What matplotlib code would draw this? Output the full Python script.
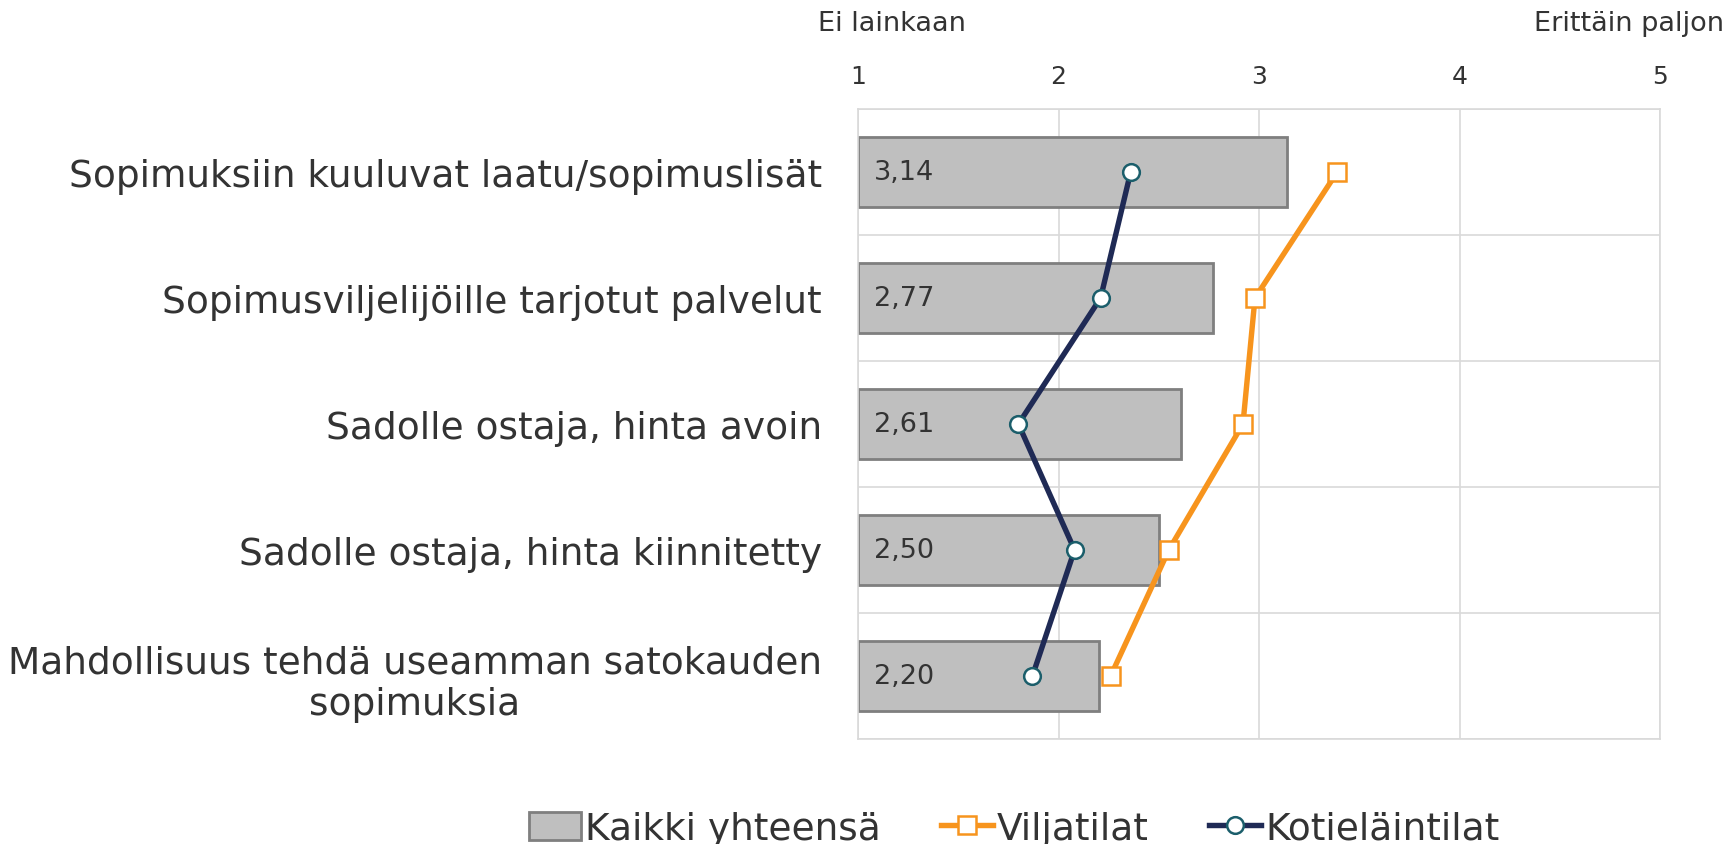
import matplotlib.pyplot as plt
from matplotlib.patches import Patch
from matplotlib.lines import Line2D
import numpy as np

# categories, top to bottom
categories = [
    'Sopimuksiin kuuluvat laatu/sopimuslisät',
    'Sopimusviljelijöille tarjotut palvelut',
    'Sadolle ostaja, hinta avoin',
    'Sadolle ostaja, hinta kiinnitetty',
    'Mahdollisuus tehdä useamman satokauden\nsopimuksia',
]
kaikki = [3.14, 2.77, 2.61, 2.50, 2.20]
viljatilat = [3.39, 2.98, 2.92, 2.55, 2.26]
kotielaintilat = [2.36, 2.21, 1.80, 2.08, 1.87]
xticks = [1, 2, 3, 4, 5]

text_col = '#333333'
grid_col = '#d9d9d9'
bar_col = '#bfbfbf'
bar_edge = '#7f7f7f'
orange = '#f7941d'
navy = '#1f2a55'
teal = '#1b5e6b'

plt.rcParams['font.family'] = 'DejaVu Sans'

fig = plt.figure(figsize=(17.27, 8.45), dpi=100)
ax = fig.add_axes([858 / 1727, 1 - 740 / 845, (1660 - 858) / 1727, (740 - 110) / 845])

y = np.arange(len(categories))

# bars start at 1 (scale minimum)
ax.barh(y, np.array(kaikki) - 1, left=1, height=0.56, color=bar_col,
        edgecolor=bar_edge, linewidth=2, zorder=2)
for yi, v in zip(y, kaikki):
    ax.text(1.08, yi, f'{v:.2f}'.replace('.', ','), va='center', ha='left',
            fontsize=19.5, color=text_col, zorder=3)

ax.plot(viljatilat, y, color=orange, lw=3.9, marker='s', ms=12.5,
        mfc='white', mec=orange, mew=1.8, zorder=4)
ax.plot(kotielaintilat, y, color=navy, lw=3.9, marker='o', ms=12,
        mfc='white', mec=teal, mew=1.8, zorder=5)

ax.set_xlim(1, 5)
ax.set_ylim(len(categories) - 0.5, -0.5)
ax.xaxis.tick_top()
ax.set_xticks(xticks)
ax.set_xticklabels([str(t) for t in xticks], fontsize=18, color=text_col)
ax.set_yticks(y)
ax.set_yticklabels(categories, fontsize=27, color=text_col, multialignment='center')
ax.set_yticks(np.arange(-0.5, len(categories)), minor=True)
ax.tick_params(axis='both', which='both', length=0)
ax.tick_params(axis='x', pad=15)
ax.tick_params(axis='y', pad=26)
ax.grid(axis='x', which='major', color=grid_col, lw=1.2, zorder=0)
ax.grid(axis='y', which='minor', color=grid_col, lw=1.2, zorder=0)
for s in ax.spines.values():
    s.set_color(grid_col)
    s.set_linewidth(1.2)

fig.text(818 / 1727, 1 - 24 / 845, 'Ei lainkaan', ha='left', va='center',
         fontsize=19.5, color=text_col)
fig.text(1724 / 1727, 1 - 24 / 845, 'Erittäin paljon', ha='right', va='center',
         fontsize=19.5, color=text_col)

handles = [
    Patch(facecolor=bar_col, edgecolor=bar_edge, linewidth=2),
    Line2D([], [], color=orange, lw=3.9, marker='s', ms=12.5, mfc='white', mec=orange, mew=1.8),
    Line2D([], [], color=navy, lw=3.9, marker='o', ms=12, mfc='white', mec=teal, mew=1.8),
]
fig.legend(handles, ['Kaikki yhteensä', 'Viljatilat', 'Kotieläintilat'],
           loc='center', bbox_to_anchor=(1014 / 1727, 1 - 830 / 845), ncol=3,
           frameon=False, fontsize=27, labelcolor=text_col, handlelength=1.4,
           handletextpad=0.1, columnspacing=1.6, handleheight=0.8)

fig.savefig('out.png', dpi=100, facecolor='white')
